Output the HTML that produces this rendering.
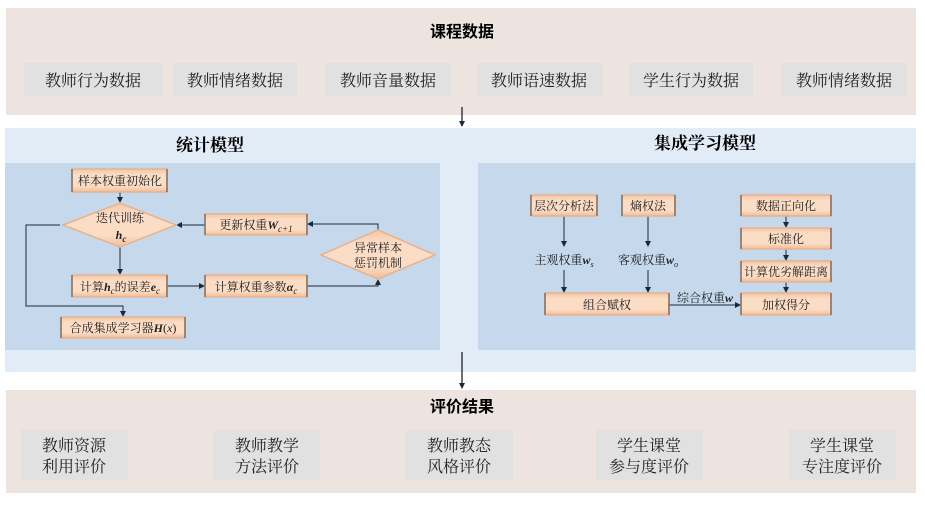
<!DOCTYPE html>
<html><head><meta charset="utf-8"><style>
html,body{margin:0;padding:0;background:#fff;}
svg{display:block;}
text{font-family:"Liberation Serif","Noto Serif CJK SC","Noto Sans CJK SC",serif;}
.s{font-family:"Liberation Sans","Noto Sans CJK SC",sans-serif;}
</style></head><body>
<svg width="925" height="505" viewBox="0 0 925 505" xmlns="http://www.w3.org/2000/svg">
<defs>
<marker id="a" markerWidth="6" markerHeight="6" refX="5" refY="3" orient="auto" markerUnits="userSpaceOnUse"><path d="M0,0 L6,3 L0,6 z" fill="#1a2a3a"/></marker>
<linearGradient id="g" x1="0" y1="0" x2="0" y2="1"><stop offset="0" stop-color="#f2c6a4"/><stop offset="0.25" stop-color="#fbdcc4"/><stop offset="0.75" stop-color="#fbdcc4"/><stop offset="1" stop-color="#eebd98"/></linearGradient>
</defs>
<!-- top band -->
<rect x="6" y="8" width="910" height="107" fill="#ede4df"/>
<text x="462" y="37" font-size="16" font-weight="bold" text-anchor="middle" class="s">课程数据</text>
<g class="s" font-size="16" text-anchor="middle" fill="#222">
<rect x="24" y="63" width="138" height="33" fill="#e2e1e1"/><text x="93" y="86">教师行为数据</text>
<rect x="173" y="63" width="124" height="33" fill="#e2e1e1"/><text x="235" y="86">教师情绪数据</text>
<rect x="325" y="63" width="126" height="33" fill="#e2e1e1"/><text x="388" y="86">教师音量数据</text>
<rect x="477" y="63" width="125" height="33" fill="#e2e1e1"/><text x="539" y="86">教师语速数据</text>
<rect x="629" y="63" width="124" height="33" fill="#e2e1e1"/><text x="691" y="86">学生行为数据</text>
<rect x="782" y="63" width="124" height="33" fill="#e2e1e1"/><text x="844" y="86">教师情绪数据</text>
</g>
<line x1="462" y1="107" x2="462" y2="126" stroke="#111" stroke-width="1.2" marker-end="url(#a)"/>
<!-- middle band -->
<rect x="5" y="128" width="911" height="244" fill="#e1ecf7"/>
<rect x="5" y="163" width="435" height="187" fill="#c5d8ec"/>
<rect x="478" y="163" width="437" height="187" fill="#c5d8ec"/>
<text x="210" y="151" font-size="17" font-weight="bold" text-anchor="middle">统计模型</text>
<text x="705" y="149" font-size="17" font-weight="bold" text-anchor="middle">集成学习模型</text>
<line x1="462" y1="352" x2="462" y2="388" stroke="#111" stroke-width="1.2" marker-end="url(#a)"/>

<g stroke="#1a2a3a" stroke-width="1" fill="none">
<!-- left connectors -->
<line x1="120" y1="192" x2="120" y2="202" marker-end="url(#a)"/>
<line x1="120" y1="247" x2="120" y2="274" marker-end="url(#a)"/>
<polyline points="60,225 26,225 26,306 123,306 123,316" marker-end="url(#a)"/>
<line x1="167" y1="286" x2="204" y2="286" marker-end="url(#a)"/>
<polyline points="307,286 378,286 378,280" marker-end="url(#a)"/>
<polyline points="378,230 378,224 308,224" marker-end="url(#a)"/>
<line x1="205" y1="225" x2="177" y2="225" marker-end="url(#a)"/>
<!-- right connectors -->
<line x1="564" y1="216" x2="564" y2="246" marker-end="url(#a)"/>
<line x1="564" y1="270" x2="564" y2="292" marker-end="url(#a)"/>
<line x1="648" y1="216" x2="648" y2="246" marker-end="url(#a)"/>
<line x1="648" y1="270" x2="648" y2="292" marker-end="url(#a)"/>
<line x1="669" y1="305" x2="740" y2="305" marker-end="url(#a)"/>
<line x1="786" y1="216" x2="786" y2="227" marker-end="url(#a)"/>
<line x1="786" y1="249" x2="786" y2="260" marker-end="url(#a)"/>
<line x1="786" y1="282" x2="786" y2="292" marker-end="url(#a)"/>
</g>

<!-- boxes -->
<g fill="url(#g)" stroke="#e6b38e" stroke-width="1.5">
<rect x="72" y="169" width="95" height="23"/>
<rect x="205" y="214" width="102" height="21"/>
<rect x="72" y="275" width="95" height="22"/>
<rect x="205" y="275" width="102" height="22"/>
<rect x="61" y="317" width="124" height="21"/>
<polygon points="63,225 120,203 176,225 120,247"/>
<polygon points="321,255 378,230 435,255 378,279"/>
<rect x="531" y="195" width="66" height="21"/>
<rect x="622" y="195" width="53" height="21"/>
<rect x="545" y="293" width="124" height="22"/>
<rect x="741" y="195" width="90" height="21"/>
<rect x="741" y="228" width="90" height="21"/>
<rect x="741" y="261" width="90" height="21"/>
<rect x="741" y="293" width="90" height="22"/>
</g>
<g stroke="#6b5a4e" stroke-width="1.2">
<line x1="72" y1="169" x2="72" y2="192"/><line x1="167" y1="169" x2="167" y2="192"/>
<line x1="205" y1="214" x2="205" y2="235"/><line x1="307" y1="214" x2="307" y2="235"/>
<line x1="72" y1="275" x2="72" y2="297"/><line x1="167" y1="275" x2="167" y2="297"/>
<line x1="205" y1="275" x2="205" y2="297"/><line x1="307" y1="275" x2="307" y2="297"/>
<line x1="61" y1="317" x2="61" y2="338"/><line x1="185" y1="317" x2="185" y2="338"/>
<line x1="531" y1="195" x2="531" y2="216"/><line x1="597" y1="195" x2="597" y2="216"/>
<line x1="622" y1="195" x2="622" y2="216"/><line x1="675" y1="195" x2="675" y2="216"/>
<line x1="545" y1="293" x2="545" y2="315"/><line x1="669" y1="293" x2="669" y2="315"/>
<line x1="741" y1="195" x2="741" y2="216"/><line x1="831" y1="195" x2="831" y2="216"/>
<line x1="741" y1="228" x2="741" y2="249"/><line x1="831" y1="228" x2="831" y2="249"/>
<line x1="741" y1="261" x2="741" y2="282"/><line x1="831" y1="261" x2="831" y2="282"/>
<line x1="741" y1="293" x2="741" y2="315"/><line x1="831" y1="293" x2="831" y2="315"/>
</g>

<g font-size="12" text-anchor="middle" fill="#222">
<text x="120" y="185">样本权重初始化</text>
<text x="120" y="222">迭代训练</text>
<text x="121" y="239" font-style="italic" font-weight="bold">h<tspan font-size="9" dy="3">c</tspan></text>
<text x="256" y="229">更新权重<tspan font-style="italic" font-weight="bold">W</tspan><tspan font-size="9" dy="3" font-style="italic">c+1</tspan></text>
<text x="378" y="252">异常样本</text>
<text x="378" y="267">惩罚机制</text>
<text x="120" y="291">计算<tspan font-style="italic" font-weight="bold">h</tspan><tspan font-size="9" dy="3" font-style="italic">c</tspan><tspan dy="-3">的误差</tspan><tspan font-style="italic" font-weight="bold">e</tspan><tspan font-size="9" dy="3" font-style="italic">c</tspan></text>
<text x="256" y="291">计算权重参数<tspan font-style="italic" font-weight="bold">α</tspan><tspan font-size="9" dy="3" font-style="italic">c</tspan></text>
<text x="123" y="332">合成集成学习器<tspan font-style="italic" font-weight="bold">H</tspan>(<tspan font-style="italic">x</tspan>)</text>
<text x="564" y="210">层次分析法</text>
<text x="648" y="210">熵权法</text>
<text x="564" y="264">主观权重<tspan font-style="italic" font-weight="bold">w</tspan><tspan font-size="8" dy="3" font-style="italic">s</tspan></text>
<text x="648" y="264">客观权重<tspan font-style="italic" font-weight="bold">w</tspan><tspan font-size="8" dy="3" font-style="italic">o</tspan></text>
<text x="607" y="309">组合赋权</text>
<text x="705" y="302">综合权重<tspan font-style="italic" font-weight="bold">w</tspan></text>
<text x="786" y="210">数据正向化</text>
<text x="786" y="243">标准化</text>
<text x="786" y="276">计算优劣解距离</text>
<text x="786" y="309">加权得分</text>
</g>

<!-- bottom band -->
<rect x="6" y="390" width="910" height="103" fill="#ede4df"/>
<text x="462" y="412" font-size="16" font-weight="bold" text-anchor="middle" class="s">评价结果</text>
<g class="s" font-size="16" text-anchor="middle" fill="#222">
<rect x="21" y="430" width="107" height="50" fill="#e2e1e1"/><text x="74" y="451">教师资源</text><text x="74" y="472">利用评价</text>
<rect x="214" y="430" width="106" height="50" fill="#e2e1e1"/><text x="267" y="451">教师教学</text><text x="267" y="472">方法评价</text>
<rect x="406" y="430" width="107" height="50" fill="#e2e1e1"/><text x="459" y="451">教师教态</text><text x="459" y="472">风格评价</text>
<rect x="596" y="430" width="107" height="50" fill="#e2e1e1"/><text x="649" y="451">学生课堂</text><text x="649" y="472">参与度评价</text>
<rect x="789" y="430" width="107" height="50" fill="#e2e1e1"/><text x="842" y="451">学生课堂</text><text x="842" y="472">专注度评价</text>
</g>
</svg>
</body></html>
